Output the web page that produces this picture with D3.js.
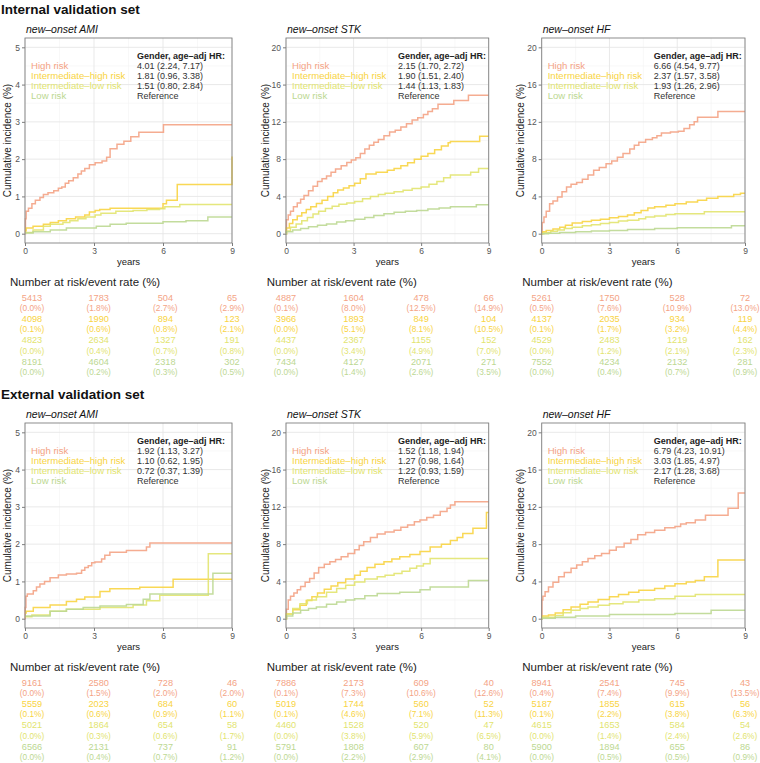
<!DOCTYPE html>
<html>
<head>
<meta charset="utf-8">
<script src="https://cdn.jsdelivr.net/npm/d3@7"></script>
<style>
  body { margin: 0; background: #fff; }
  svg text { font-family: "Liberation Sans", Arial, sans-serif; }
</style>
</head>
<body>
<svg id="chart"></svg>
<script>
  //Risk groups and their colours
  const groups = ["High risk", "Intermediate\u2013high risk", "Intermediate\u2013low risk", "Low risk"];
  const groupColors = ["#f4a385", "#f8d443", "#e2e46f", "#bcd892"];
  const tableTimes = [0, 3, 6, 9];
  const setTitles = ["Internal validation set", "External validation set"];
  const outcomeNames = ["new\u2013onset AMI", "new\u2013onset STK", "new\u2013onset HF"];
  const yMaxes = [5, 20, 20];
  const yTickSteps = [1, 4, 4];

  //Cumulative incidence curves [years, %], one array per group
  const intAmiCurves = [
    [[0,0],[0.02,0.4],[0.05,0.6],[0.15,0.68],[0.3,0.8],[0.45,0.9],[0.65,0.97],[0.8,1.05],[1.0,1.1],[1.25,1.15],[1.45,1.22],[1.6,1.25],[1.75,1.35],[1.9,1.42],[2.1,1.5],[2.3,1.6],[2.45,1.68],[2.6,1.75],[2.8,1.85],[3.05,1.9],[3.35,1.95],[3.55,2.05],[3.7,2.28],[4.0,2.4],[4.3,2.48],[4.6,2.6],[4.95,2.72],[6.02,2.92],[9,2.92]],
    [[0,0.08],[0.05,0.15],[0.35,0.2],[0.8,0.25],[1.1,0.3],[1.45,0.35],[1.8,0.4],[2.2,0.45],[2.6,0.5],[2.8,0.58],[3.05,0.62],[3.25,0.65],[3.7,0.68],[6.0,0.8],[6.15,0.9],[6.62,1.32],[9,2.07]],
    [[0,0.03],[0.35,0.1],[0.8,0.2],[1.1,0.25],[1.65,0.3],[1.95,0.35],[2.3,0.4],[2.65,0.45],[3.05,0.5],[3.3,0.55],[3.95,0.6],[4.7,0.62],[5.3,0.65],[5.85,0.67],[6.08,0.72],[6.73,0.78],[9,0.78]],
    [[0,0.02],[0.35,0.05],[1.1,0.1],[1.8,0.15],[3.1,0.2],[3.7,0.25],[4.4,0.28],[6.0,0.32],[7.0,0.35],[7.95,0.45],[9,0.45]]
  ];
  const intStkCurves = [
    [[0,0],[0.02,1.5],[0.1,2.0],[0.2,2.4],[0.33,2.9],[0.5,3.3],[0.65,3.7],[0.8,4.1],[1.0,4.6],[1.2,5.1],[1.4,5.6],[1.6,5.9],[1.8,6.2],[2.0,6.6],[2.2,6.95],[2.45,7.3],[2.7,7.65],[2.9,7.9],[3.1,8.15],[3.3,8.6],[3.5,9.1],[3.7,9.5],[3.9,9.8],[4.1,10.1],[4.35,10.5],[4.6,10.9],[4.85,11.1],[5.1,11.45],[5.35,11.8],[5.6,12.2],[5.85,12.45],[6.1,12.8],[6.3,13.1],[6.5,13.4],[6.75,13.9],[7.45,14.3],[8.1,14.85],[9,14.85]],
    [[0,0],[0.02,0.6],[0.15,1.1],[0.3,1.5],[0.5,1.9],[0.7,2.25],[0.9,2.6],[1.1,2.9],[1.35,3.25],[1.6,3.6],[1.85,4.0],[2.1,4.4],[2.3,4.7],[2.55,4.9],[2.8,5.15],[3.05,5.4],[3.3,5.9],[3.55,6.4],[4.0,6.6],[4.5,6.8],[4.8,7.0],[5.1,7.3],[5.4,7.6],[5.7,8.0],[6.0,8.3],[6.3,8.6],[6.6,9.0],[6.9,9.4],[7.2,9.75],[7.3,9.9],[8.6,10.45],[9,10.45]],
    [[0,0],[0.02,0.3],[0.2,0.7],[0.45,1.05],[0.7,1.4],[0.95,1.75],[1.2,2.1],[1.45,2.4],[1.75,2.7],[2.05,2.95],[2.35,3.15],[2.7,3.3],[3.05,3.45],[3.4,3.75],[3.75,4.0],[4.1,4.2],[4.4,4.35],[4.8,4.5],[5.2,4.65],[5.6,4.85],[6.0,5.0],[6.35,5.3],[6.7,5.6],[7.0,6.0],[7.3,6.3],[8.2,6.6],[8.55,7.0],[9,7.0]],
    [[0,0],[0.02,0.2],[0.3,0.4],[0.65,0.55],[1.0,0.75],[1.4,0.9],[1.8,1.05],[2.25,1.25],[2.65,1.4],[3.05,1.55],[3.5,1.75],[3.9,1.95],[4.35,2.15],[4.8,2.3],[5.3,2.4],[5.8,2.5],[6.3,2.65],[6.8,2.75],[7.3,2.9],[8.45,3.1],[9,3.1]]
  ];
  const intHfCurves = [
    [[0,0],[0.02,1.2],[0.1,1.8],[0.2,2.4],[0.35,3.2],[0.5,3.5],[0.7,3.95],[0.9,4.5],[1.1,5.0],[1.3,5.3],[1.55,5.5],[1.8,5.85],[2.05,6.3],[2.3,6.8],[2.55,7.1],[2.85,7.5],[3.1,7.8],[3.35,8.2],[3.6,8.6],[3.9,9.1],[4.1,9.5],[4.3,9.8],[4.6,10.1],[4.9,10.3],[5.1,10.5],[5.3,10.8],[5.7,10.9],[6.05,11.0],[6.3,11.3],[6.55,11.7],[6.75,12.0],[6.9,12.5],[7.8,13.1],[9,13.1]],
    [[0,0],[0.05,0.2],[0.2,0.35],[0.5,0.5],[0.8,0.7],[1.05,0.9],[1.35,1.15],[1.8,1.3],[2.2,1.45],[2.6,1.55],[3.0,1.7],[3.4,1.85],[3.8,2.0],[4.1,2.25],[4.4,2.5],[4.7,2.75],[5.0,2.9],[5.5,3.05],[5.9,3.2],[6.4,3.4],[6.9,3.6],[7.3,3.8],[7.8,4.0],[8.5,4.2],[8.8,4.35],[9,4.35]],
    [[0,0],[0.1,0.1],[0.4,0.25],[0.7,0.4],[1.0,0.55],[1.35,0.7],[1.8,0.85],[2.2,0.95],[2.6,1.1],[3.0,1.2],[3.4,1.35],[3.8,1.45],[4.3,1.6],[4.6,1.8],[5.0,1.9],[5.5,2.05],[5.9,2.15],[7.2,2.35],[9,2.35]],
    [[0,0],[0.3,0.05],[0.8,0.12],[1.5,0.2],[2.2,0.28],[3.0,0.35],[3.8,0.45],[5.0,0.55],[6.0,0.65],[8.4,0.85],[9,0.85]]
  ];
  const extAmiCurves = [
    [[0,0],[0.01,0.3],[0.04,0.6],[0.1,0.66],[0.36,0.75],[0.5,0.85],[0.65,0.93],[0.85,1.0],[1.09,1.1],[1.45,1.17],[1.8,1.2],[2.24,1.22],[2.46,1.3],[2.6,1.37],[2.75,1.42],[2.9,1.5],[3.04,1.52],[3.33,1.6],[3.47,1.7],[3.69,1.78],[4.41,1.83],[5.28,1.92],[5.43,2.03],[9,2.03]],
    [[0,0.15],[0.05,0.2],[0.36,0.3],[1.09,0.37],[1.8,0.46],[2.24,0.52],[2.6,0.58],[3.26,0.73],[3.69,0.8],[4.99,0.84],[6.44,1.06],[9,1.06]],
    [[0,0.05],[0.3,0.1],[1.09,0.2],[1.8,0.25],[3.26,0.3],[4.7,0.37],[5.28,0.48],[5.86,0.63],[7.97,1.74],[9,1.74]],
    [[0,0.07],[1.09,0.2],[1.8,0.25],[2.53,0.3],[3.26,0.34],[4.41,0.38],[5.14,0.52],[5.43,0.66],[8.17,1.22],[9,1.22]]
  ];
  const extStkCurves = [
    [[0,0],[0.02,1.0],[0.1,2.0],[0.2,2.4],[0.35,2.75],[0.5,3.1],[0.65,3.45],[0.85,3.9],[1.05,4.3],[1.25,4.9],[1.45,5.5],[1.7,5.85],[1.95,6.1],[2.2,6.35],[2.45,6.65],[2.75,7.0],[3.05,7.4],[3.25,7.85],[3.45,8.25],[3.75,8.7],[4.05,9.1],[4.4,9.3],[4.8,9.5],[5.1,9.8],[5.4,10.05],[5.7,10.4],[5.95,10.6],[6.25,10.85],[6.55,11.1],[6.85,11.5],[7.15,11.85],[7.3,12.2],[7.5,12.55],[9,12.55]],
    [[0,0],[0.02,0.5],[0.3,0.95],[0.62,1.45],[0.9,1.95],[1.15,2.35],[1.4,2.75],[1.7,3.15],[2.0,3.5],[2.3,3.85],[2.65,4.25],[3.05,4.65],[3.3,5.1],[3.6,5.5],[3.95,5.85],[4.35,6.1],[4.7,6.4],[5.05,6.65],[5.5,6.9],[5.95,7.2],[6.4,7.7],[6.9,8.0],[7.3,8.4],[7.6,8.7],[7.85,9.15],[8.3,9.7],[8.9,11.4],[9,11.4]],
    [[0,0],[0.02,0.5],[0.3,1.1],[0.62,1.6],[0.95,2.0],[1.35,2.35],[1.8,2.85],[2.25,3.25],[2.65,3.6],[3.05,3.95],[3.5,4.25],[4.05,4.5],[4.4,4.65],[4.8,4.85],[5.15,5.1],[5.5,5.4],[5.8,5.65],[6.1,5.9],[6.4,6.45],[9,6.45]],
    [[0,0],[0.02,0.3],[0.3,0.6],[0.65,0.9],[1.0,1.1],[1.35,1.25],[1.8,1.55],[2.25,1.8],[2.65,2.0],[3.05,2.15],[3.5,2.45],[4.05,2.7],[5.05,2.85],[5.95,3.1],[6.4,3.4],[8.1,4.1],[9,4.1]]
  ];
  const extHfCurves = [
    [[0,0],[0.01,2.0],[0.05,2.4],[0.15,2.9],[0.3,3.4],[0.5,3.9],[0.75,4.5],[1.0,4.95],[1.3,5.4],[1.55,5.75],[1.8,6.1],[2.05,6.45],[2.35,6.75],[2.65,7.0],[3.0,7.35],[3.3,7.7],[3.65,8.1],[3.95,8.5],[4.25,9.0],[4.6,9.25],[5.0,9.5],[5.45,9.75],[5.9,9.9],[6.15,10.15],[6.4,10.3],[6.8,10.6],[7.25,11.1],[8.25,11.85],[8.7,13.5],[9,13.5]],
    [[0,0],[0.02,0.3],[0.3,0.4],[0.6,0.6],[0.95,0.95],[1.3,1.25],[1.7,1.55],[2.05,1.8],[2.5,2.05],[3.0,2.35],[3.4,2.6],[3.85,2.85],[4.3,3.05],[5.0,3.25],[5.45,3.5],[5.9,3.75],[6.4,3.95],[6.8,4.1],[7.2,4.5],[7.8,6.3],[9,6.3]],
    [[0,0],[0.02,0.15],[0.6,0.35],[0.95,0.65],[1.3,0.9],[1.7,1.1],[2.05,1.25],[2.5,1.45],[3.0,1.6],[3.6,1.8],[4.3,2.0],[5.0,2.15],[5.9,2.4],[6.8,2.6],[9,2.6]],
    [[0,0],[0.02,0.05],[0.6,0.15],[1.5,0.28],[3.0,0.45],[5.9,0.55],[7.5,0.9],[9,0.9]]
  ];

  //Gender, age-adjusted hazard ratios
  const intAmiHR = ["4.01 (2.24, 7.17)", "1.81 (0.96, 3.38)", "1.51 (0.80, 2.84)", "Reference"];
  const intStkHR = ["2.15 (1.70, 2.72)", "1.90 (1.51, 2.40)", "1.44 (1.13, 1.83)", "Reference"];
  const intHfHR = ["6.66 (4.54, 9.77)", "2.37 (1.57, 3.58)", "1.93 (1.26, 2.96)", "Reference"];
  const extAmiHR = ["1.92 (1.13, 3.27)", "1.10 (0.62, 1.95)", "0.72 (0.37, 1.39)", "Reference"];
  const extStkHR = ["1.52 (1.18, 1.94)", "1.27 (0.98, 1.64)", "1.22 (0.93, 1.59)", "Reference"];
  const extHfHR = ["6.79 (4.23, 10.91)", "3.03 (1.85, 4.97)", "2.17 (1.28, 3.68)", "Reference"];

  //Number at risk at 0, 3, 6, 9 years
  const intAmiRisk = [[5413,1783,504,65],[4098,1990,894,123],[4823,2634,1327,191],[8191,4604,2318,302]];
  const intStkRisk = [[4887,1604,478,66],[3966,1893,849,104],[4437,2367,1155,152],[7434,4127,2071,271]];
  const intHfRisk = [[5261,1750,528,72],[4137,2035,934,119],[4529,2483,1219,162],[7552,4234,2132,281]];
  const extAmiRisk = [[9161,2580,728,46],[5559,2023,684,60],[5021,1864,654,58],[6566,2131,737,91]];
  const extStkRisk = [[7886,2173,609,40],[5019,1744,560,52],[4460,1528,520,47],[5791,1808,607,80]];
  const extHfRisk = [[8941,2541,745,43],[5187,1855,615,56],[4615,1653,584,54],[5900,1894,655,86]];

  //Event rate (%) at 0, 3, 6, 9 years
  const intAmiRate = [[0.0,1.8,2.7,2.9],[0.1,0.6,0.8,2.1],[0.0,0.4,0.7,0.8],[0.0,0.2,0.3,0.5]];
  const intStkRate = [[0.1,8.0,12.5,14.9],[0.0,5.1,8.1,10.5],[0.0,3.4,4.9,7.0],[0.0,1.4,2.6,3.5]];
  const intHfRate = [[0.5,7.6,10.9,13.0],[0.1,1.7,3.2,4.4],[0.0,1.2,2.1,2.3],[0.0,0.4,0.7,0.9]];
  const extAmiRate = [[0.0,1.5,2.0,2.0],[0.1,0.6,0.9,1.1],[0.0,0.3,0.6,1.7],[0.0,0.4,0.7,1.2]];
  const extStkRate = [[0.1,7.3,10.6,12.6],[0.1,4.6,7.1,11.3],[0.0,3.8,5.9,6.5],[0.0,2.2,2.9,4.1]];
  const extHfRate = [[0.4,7.4,9.9,13.5],[0.1,2.2,3.8,6.3],[0.0,1.4,2.4,2.6],[0.0,0.5,0.5,0.9]];

  //Panels per set, in column order
  const sets = [
    { curves: [intAmiCurves, intStkCurves, intHfCurves], hr: [intAmiHR, intStkHR, intHfHR],
      risk: [intAmiRisk, intStkRisk, intHfRisk], rate: [intAmiRate, intStkRate, intHfRate] },
    { curves: [extAmiCurves, extStkCurves, extHfCurves], hr: [extAmiHR, extStkHR, extHfHR],
      risk: [extAmiRisk, extStkRisk, extHfRisk], rate: [extAmiRate, extStkRate, extHfRate] }
  ];

  //Layout
  const width = 760, height = 763;
  const setOffset = [0, 385];
  const panelLeft = [25, 286, 541.7];
  const panelRight = [232, 488.7, 745];
  const tableLeft = [32, 286, 541.7];
  const yTitleX = [7, 265, 520];
  const tableTitleX = [10, 266.7, 522.3];
  const panelTop = 38, panelBottom = 243;
  const rowStart = 297.3, rowStep = 10.7;

  const svg = d3.select('#chart')
    .attr('width', width)
    .attr('height', height);

  svg.append('rect').attr('width', width).attr('height', height).attr('fill', '#fff');

  const line = d3.line().curve(d3.curveStepAfter);

  sets.forEach((set, s) => {
    const g = svg.append('g').attr('transform', `translate(0,${setOffset[s]})`);

    g.append('text')
      .attr('x', 1).attr('y', 13.5)
      .attr('font-size', 13.5).attr('font-weight', 'bold').attr('fill', '#111')
      .text(setTitles[s]);

    set.curves.forEach((curves, p) => {
      const x = d3.scaleLinear().domain([0, 9]).range([panelLeft[p], panelRight[p]]);
      const yMax = yMaxes[p];
      const pad = yMax * 0.05;
      const y = d3.scaleLinear().domain([-pad, yMax + pad]).range([panelBottom, panelTop]);
      const yTicks = d3.range(0, yMax + 0.001, yTickSteps[p]);
      const yMinor = d3.range(yTickSteps[p] / 2, yMax, yTickSteps[p]);
      const xTicks = [0, 3, 6, 9];
      const xMinor = [1.5, 4.5, 7.5];

      const pg = g.append('g');

      //subtitle
      pg.append('text')
        .attr('x', panelLeft[p] + 1).attr('y', 32.5)
        .attr('font-size', 10.5).attr('font-style', 'italic').attr('fill', '#111')
        .text(outcomeNames[p]);

      //grid
      const grid = pg.append('g');
      grid.selectAll('.xminor').data(xMinor).enter().append('line')
        .attr('x1', d => x(d)).attr('x2', d => x(d))
        .attr('y1', panelTop).attr('y2', panelBottom)
        .attr('stroke', '#f3f3f3').attr('stroke-width', 0.6);
      grid.selectAll('.yminor').data(yMinor).enter().append('line')
        .attr('x1', panelLeft[p]).attr('x2', panelRight[p])
        .attr('y1', d => y(d)).attr('y2', d => y(d))
        .attr('stroke', '#f3f3f3').attr('stroke-width', 0.6);
      grid.selectAll('.xmajor').data(xTicks).enter().append('line')
        .attr('x1', d => x(d)).attr('x2', d => x(d))
        .attr('y1', panelTop).attr('y2', panelBottom)
        .attr('stroke', '#e6e6e6').attr('stroke-width', 0.9);
      grid.selectAll('.ymajor').data(yTicks).enter().append('line')
        .attr('x1', panelLeft[p]).attr('x2', panelRight[p])
        .attr('y1', d => y(d)).attr('y2', d => y(d))
        .attr('stroke', '#e6e6e6').attr('stroke-width', 0.9);

      //axes
      const yAxis = pg.append('g')
        .attr('transform', `translate(${panelLeft[p]},0)`)
        .call(d3.axisLeft(y).tickValues(yTicks).tickFormat(d3.format('d')).tickSize(3).tickPadding(2));
      const xAxis = pg.append('g')
        .attr('transform', `translate(0,${panelBottom})`)
        .call(d3.axisBottom(x).tickValues(xTicks).tickFormat(d3.format('d')).tickSize(3).tickPadding(1.5));
      [yAxis, xAxis].forEach(a => {
        a.select('.domain').remove();
        a.selectAll('line').attr('stroke', '#444').attr('stroke-width', 0.7);
        a.selectAll('text').attr('font-size', 8.5).attr('fill', '#555')
          .attr('font-family', '"Liberation Sans", Arial, sans-serif');
      });

      //curves
      set.curves[p].forEach((c, k) => {
        pg.append('path')
          .datum(c)
          .attr('d', line.x(d => x(d[0])).y(d => y(d[1])))
          .attr('fill', 'none')
          .attr('stroke', groupColors[k])
          .attr('stroke-width', 1.5)
          .attr('stroke-opacity', 0.9);
      });

      //panel border
      pg.append('rect')
        .attr('x', panelLeft[p]).attr('y', panelTop)
        .attr('width', panelRight[p] - panelLeft[p]).attr('height', panelBottom - panelTop)
        .attr('fill', 'none').attr('stroke', '#808080').attr('stroke-width', 0.9);

      //legend and hazard ratios
      const lx = panelLeft[p] + 6, hx = panelLeft[p] + 112;
      pg.append('text')
        .attr('x', hx).attr('y', panelTop + 18).attr('dy', '0.35em')
        .attr('font-size', 9).attr('font-weight', 'bold').attr('fill', '#222')
        .text('Gender, age\u2013adj HR:');
      groups.forEach((grp, k) => {
        const ty = panelTop + 28 + k * 10;
        pg.append('text')
          .attr('x', lx).attr('y', ty).attr('dy', '0.35em')
          .attr('font-size', 9.6).attr('fill', groupColors[k])
          .text(grp);
        pg.append('text')
          .attr('x', hx).attr('y', ty).attr('dy', '0.35em')
          .attr('font-size', 9).attr('fill', '#333')
          .text(set.hr[p][k]);
      });

      //axis titles
      pg.append('text')
        .attr('transform', `translate(${yTitleX[p]},${(panelTop + panelBottom) / 2}) rotate(-90)`)
        .attr('text-anchor', 'middle').attr('dy', '0.35em')
        .attr('font-size', 10).attr('fill', '#222')
        .text('Cumulative incidence (%)');
      pg.append('text')
        .attr('x', (panelLeft[p] + panelRight[p]) / 2).attr('y', 262).attr('dy', '0.35em')
        .attr('text-anchor', 'middle').attr('font-size', 9.5).attr('fill', '#222')
        .text('years');

      //risk table
      const tx = d3.scaleLinear().domain([0, 9]).range([tableLeft[p], panelRight[p]]);
      pg.append('text')
        .attr('x', tableTitleX[p]).attr('y', 282).attr('dy', '0.35em')
        .attr('font-size', 11.5).attr('fill', '#222')
        .text('Number at risk/event rate (%)');
      groups.forEach((grp, k) => {
        const rows = pg.append('g').attr('fill', groupColors[k]).attr('text-anchor', 'middle');
        rows.selectAll('.n').data(tableTimes).enter().append('text')
          .attr('x', t => tx(t)).attr('y', rowStart + 2 * k * rowStep).attr('dy', '0.35em')
          .attr('font-size', 9.2)
          .text((t, i) => set.risk[p][k][i]);
        rows.selectAll('.r').data(tableTimes).enter().append('text')
          .attr('x', t => tx(t)).attr('y', rowStart + (2 * k + 1) * rowStep).attr('dy', '0.35em')
          .attr('font-size', 8.3)
          .text((t, i) => `(${set.rate[p][k][i].toFixed(1)}%)`);
      });
    });
  });
</script>
</body>
</html>
